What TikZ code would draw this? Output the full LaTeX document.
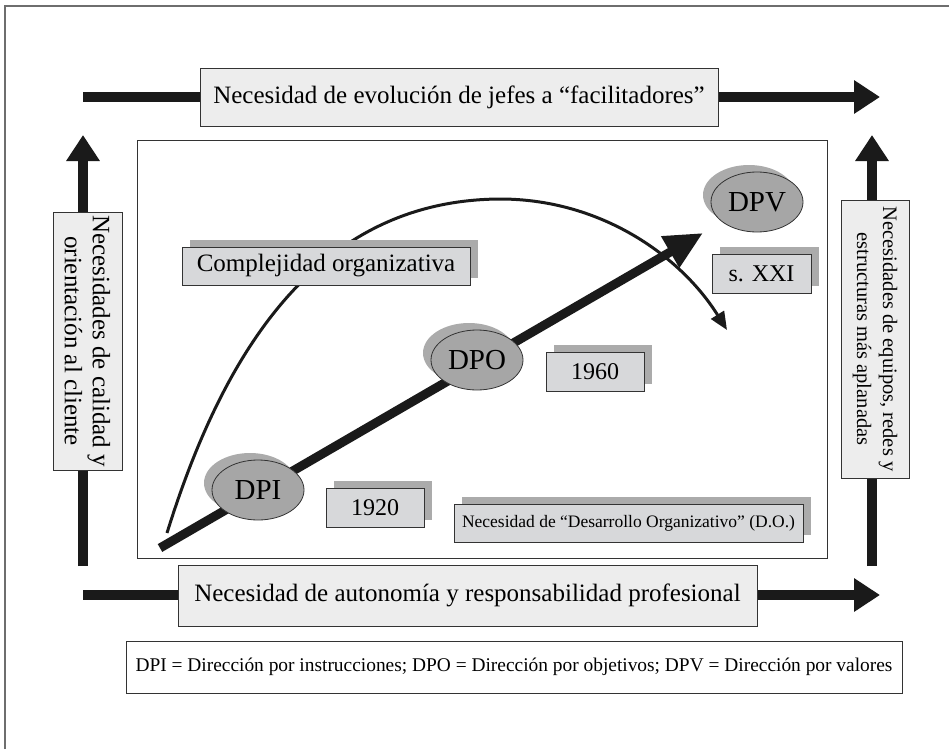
\documentclass[tikz,border=0pt]{standalone}
\usepackage{fontspec}
\setmainfont{Liberation Serif}
\usetikzlibrary{arrows.meta,shapes.geometric,shadows}
\definecolor{boxlight}{HTML}{EDEDED}
\definecolor{boxmid}{HTML}{D7D8DA}
\definecolor{shade}{HTML}{ABABAB}
\definecolor{ellfill}{HTML}{A6A6A6}
\definecolor{edge}{HTML}{333333}
\definecolor{framegray}{HTML}{6E6E6E}
\definecolor{ink}{HTML}{1A1A1A}
\tikzset{
  bigbox/.style={draw=edge, line width=0.9pt, fill=boxlight, inner sep=0pt, align=center,
    font=\fontsize{25}{28}\selectfont},
  labbox/.style={draw=edge, line width=0.9pt, fill=boxmid, inner sep=0pt,
    font=\fontsize{25}{28}\selectfont,
    drop shadow={shadow xshift=8pt, shadow yshift=7pt, fill=shade, opacity=1}},
  ellnode/.style={ellipse, draw=edge, line width=0.8pt, fill=ellfill, inner sep=0pt,
    minimum width=92pt, minimum height=60pt, font=\fontsize{29}{33}\selectfont,
    drop shadow={shadow xshift=-8pt, shadow yshift=7pt, fill=shade, opacity=1}},
  bigarrow/.style={draw=ink, line width=10pt, -{Triangle[length=26pt,width=32pt]}},
  diagarrow/.style={draw=ink, line width=9pt, -{Triangle[length=38pt,width=34pt]}},
  curvearrow/.style={draw=ink, line width=3pt, -{Triangle[length=18pt,width=15pt]}}
}
\begin{document}
\begin{tikzpicture}[x=1pt,y=-1pt]
\useasboundingbox (0,0) rectangle (949,749);
% outer frame (top and left edges)
\draw[framegray, line width=2pt] (4.5,749) -- (4.5,6) -- (949,6);

% inner panel
\node[draw=edge, line width=1pt, minimum width=690pt, minimum height=418pt, inner sep=0pt] (panel) at (482,349) {};

% frame arrows
\coordinate (tl) at (83,97);
\coordinate (tr) at (880,97);
\coordinate (bl) at (83,595);
\coordinate (br) at (880,595);
\coordinate (lb) at (83,566);
\coordinate (lt) at (83,135);
\coordinate (rb) at (872,566);
\coordinate (rt) at (872,135);
\draw[bigarrow] (tl) -- (tr);
\draw[bigarrow] (bl) -- (br);
\draw[bigarrow] (lb) -- (lt);
\draw[bigarrow] (rb) -- (rt);

% frame boxes
\node[bigbox, minimum width=518pt, minimum height=58pt] (top) at (459,97)
  {Necesidad de evolución de jefes a “facilitadores”};
\node[bigbox, minimum width=579pt, minimum height=61pt] (bottom) at (467.5,595.5)
  {Necesidad de autonomía y responsabilidad profesional};
\node[bigbox, rotate=-90, minimum width=258pt, minimum height=69pt] (left) at (87.5,341)
  {Necesidades de calidad y\\orientación al cliente};
\node[bigbox, rotate=-90, minimum width=278pt, minimum height=68pt,
  font=\fontsize{20.5}{26}\selectfont] (right) at (875,339)
  {Necesidades de equipos, redes y\\estructuras más aplanadas};

% complexity curve
\coordinate (c0) at (167,533);
\coordinate (cpk) at (500,199);
\coordinate (c1) at (727,330);
\draw[curvearrow] (c0) .. controls (230,330) and (330,200) .. (cpk)
  .. controls (600,199) and (680,255) .. (c1);

% evolution arrow
\coordinate (s0) at (160,548);
\coordinate (s1) at (703,233);
\draw[diagarrow] (s0) -- (s1);

% ellipses
\node[ellnode] (dpi) at (258,490) {DPI};
\node[ellnode] (dpo) at (477,360) {DPO};
\node[ellnode] (dpv) at (757,202) {DPV};

% label boxes
\node[labbox, minimum width=288pt, minimum height=38pt] (comp) at (326,266) {Complejidad organizativa};
\node[labbox, minimum width=98pt, minimum height=39pt, font=\fontsize{24}{28}\selectfont] (y1920) at (375,507.5) {1920};
\node[labbox, minimum width=98pt, minimum height=39pt, font=\fontsize{24}{28}\selectfont] (y1960) at (595,371.5) {1960};
\node[labbox, minimum width=99pt, minimum height=39pt, font=\fontsize{24}{28}\selectfont] (sxxi) at (761.5,273.5) {s. XXI};
\node[labbox, minimum width=349pt, minimum height=38pt, font=\fontsize{17.5}{20}\selectfont] (do) at (628.5,523)
  {Necesidad de “Desarrollo Organizativo” (D.O.)};

% legend
\node[draw=edge, line width=1pt, fill=white, inner sep=0pt, minimum width=776pt, minimum height=52pt,
  font=\fontsize{19.4}{22}\selectfont] (legend) at (514,667)
  {DPI = Dirección por instrucciones; DPO = Dirección por objetivos; DPV = Dirección por valores};
\end{tikzpicture}
\end{document}
